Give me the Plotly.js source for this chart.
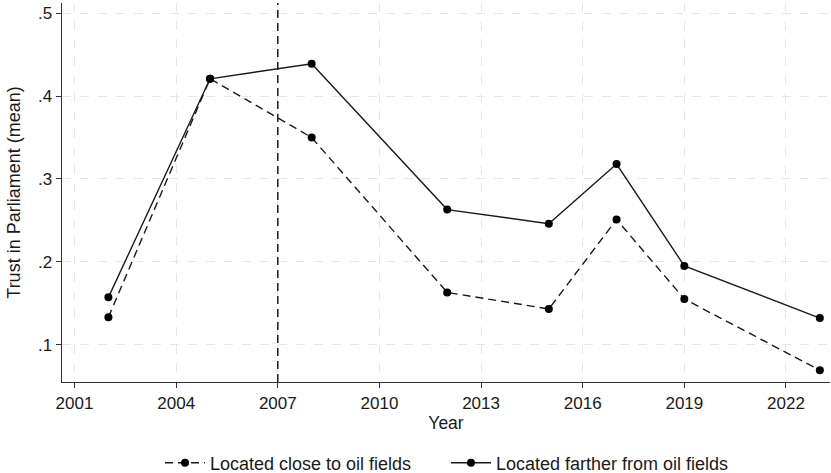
<!DOCTYPE html>
<html><head><meta charset="utf-8">
<script src="https://cdn.plot.ly/plotly-3.0.1.min.js"></script>
<style>html,body{margin:0;padding:0;background:#fff}#chart{width:831px;height:473px}</style>
</head><body><div id="chart"></div>
<script>
const years = [2002, 2005, 2008, 2012, 2015, 2017, 2019, 2023];
const closeVals = [0.133, 0.421, 0.350, 0.163, 0.143, 0.251, 0.155, 0.069];
const fartherVals = [0.157, 0.421, 0.439, 0.263, 0.246, 0.318, 0.195, 0.132];
const xTicks = [2001, 2004, 2007, 2010, 2013, 2016, 2019, 2022];
const yTicks = [0.1, 0.2, 0.3, 0.4, 0.5];
const yTickText = ['.1', '.2', '.3', '.4', '.5'];
const cutoffYear = 2007;

const fam = 'Liberation Sans, Arial, sans-serif';
const txt = '#1a1a1a';
const traces = [
  {x: years, y: closeVals, name: 'Located close to oil fields', type: 'scatter', mode: 'lines+markers',
   line: {color: txt, width: 1.4, dash: '8px,5px'}, marker: {color: '#000', size: 8}, legend: 'legend'},
  {x: years, y: fartherVals, name: 'Located farther from oil fields', type: 'scatter', mode: 'lines+markers',
   line: {color: txt, width: 1.4}, marker: {color: '#000', size: 8}, legend: 'legend2'}
];
const grid = '#e6e6e6';
const legFont = {family: fam, size: 18, color: txt};
const layout = {
  width: 831, height: 473,
  margin: {l: 62, r: 1, t: 3, b: 91, autoexpand: false},
  paper_bgcolor: '#fff', plot_bgcolor: '#fff',
  font: {family: fam, color: txt, size: 17},
  showlegend: true,
  legend: {orientation: 'h', x: 0.1276, xanchor: 'left', y: -0.214, yanchor: 'middle', font: legFont, itemwidth: 40},
  legend2: {orientation: 'h', x: 0.5, xanchor: 'left', y: -0.214, yanchor: 'middle', font: legFont, itemwidth: 40},
  xaxis: {
    range: [2000.63, 2023.3], tickvals: xTicks, ticktext: xTicks.map(String),
    showgrid: true, gridcolor: grid, griddash: 'dash', gridwidth: 1,
    showline: true, linecolor: '#333', linewidth: 1.3,
    ticks: 'outside', ticklen: 5, tickcolor: '#333', zeroline: false,
    title: {text: 'Year', font: {family: fam, size: 17.5, color: txt}, standoff: 5},
    tickfont: {family: fam, size: 17, color: txt}
  },
  yaxis: {
    range: [0.0548, 0.5125], tickvals: yTicks, ticktext: yTickText,
    showgrid: true, gridcolor: grid, griddash: 'dash', gridwidth: 1,
    showline: true, linecolor: '#333', linewidth: 1.3,
    ticks: 'outside', ticklen: 5, tickcolor: '#333', zeroline: false,
    title: {text: 'Trust in Parliament (mean)', font: {family: fam, size: 18, color: txt}, standoff: 12},
    tickfont: {family: fam, size: 17, color: txt}
  },
  shapes: [{type: 'line', xref: 'x', yref: 'paper', x0: cutoffYear, x1: cutoffYear, y0: 0, y1: 1,
            line: {color: txt, width: 1.5, dash: '8px,5px'}, layer: 'above'}]
};
Plotly.newPlot('chart', traces, layout, {displayModeBar: false, staticPlot: true});
</script></body></html>
